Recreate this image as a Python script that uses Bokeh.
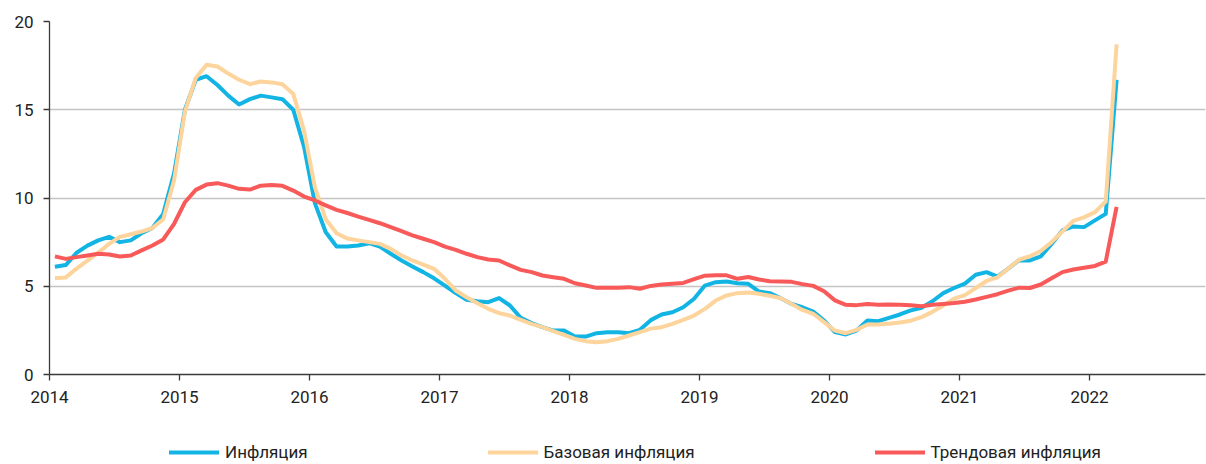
from bokeh.plotting import figure
from bokeh.layouts import column
from bokeh.models import Range1d, FixedTicker, Legend, LegendItem, ColumnDataSource
from bokeh.embed import file_html
from bokeh.resources import INLINE

start_year = 2014
years = [2014, 2015, 2016, 2017, 2018, 2019, 2020, 2021, 2022]

inflation = [
    6.1, 6.2, 6.9, 7.3, 7.6, 7.8, 7.5, 7.6, 8.0, 8.3, 9.1, 11.4,
    15.0, 16.7, 16.9, 16.4, 15.8, 15.3, 15.6, 15.8, 15.7, 15.6, 15.0, 12.9,
    9.7, 8.06, 7.25, 7.25, 7.31, 7.44, 7.25, 6.84, 6.46, 6.12, 5.8, 5.45,
    5.04, 4.61, 4.23, 4.15, 4.1, 4.33, 3.91, 3.21, 2.91, 2.68, 2.49, 2.49,
    2.15, 2.15, 2.34, 2.4, 2.4, 2.34, 2.53, 3.08, 3.4, 3.53, 3.81, 4.29,
    5.04, 5.23, 5.27, 5.17, 5.14, 4.7, 4.61, 4.32, 4.0, 3.81, 3.57, 3.06,
    2.4, 2.27, 2.49, 3.06, 3.02, 3.21, 3.4, 3.63, 3.78, 4.15, 4.61, 4.9,
    5.15, 5.65, 5.8, 5.55, 6.0, 6.48, 6.46, 6.69, 7.4, 8.16, 8.39, 8.35,
    8.73, 9.1, 16.7,
]

core = [
    5.45, 5.5, 6.0, 6.45, 6.9, 7.4, 7.8, 7.95, 8.1, 8.3, 8.8, 11.0,
    14.9, 16.8, 17.55, 17.45, 17.05, 16.7, 16.45, 16.6, 16.55, 16.45, 15.9, 13.8,
    10.6, 8.8, 8.0, 7.7, 7.6, 7.5, 7.4, 7.12, 6.74, 6.46, 6.23, 5.99,
    5.42, 4.76, 4.38, 4.04, 3.72, 3.48, 3.34, 3.1, 2.87, 2.68, 2.46, 2.25,
    2.02, 1.89, 1.83, 1.89, 2.02, 2.21, 2.4, 2.6, 2.68, 2.87, 3.1, 3.34,
    3.72, 4.19, 4.48, 4.61, 4.65, 4.57, 4.46, 4.32, 4.0, 3.66, 3.44, 2.97,
    2.49, 2.34, 2.53, 2.83, 2.83, 2.87, 2.95, 3.05, 3.25, 3.55, 3.9, 4.3,
    4.5, 4.9, 5.3, 5.5, 6.0, 6.5, 6.7, 7.0, 7.5, 8.1, 8.7, 8.9,
    9.2, 9.8, 18.7,
]

trend = [
    6.69, 6.55, 6.65, 6.74, 6.84, 6.8, 6.69, 6.74, 7.03, 7.31, 7.65, 8.54,
    9.76, 10.46, 10.76, 10.84, 10.7, 10.52, 10.48, 10.7, 10.73, 10.69, 10.42, 10.08,
    9.86, 9.58, 9.33, 9.15, 8.95, 8.76, 8.57, 8.35, 8.12, 7.88, 7.69, 7.5,
    7.25, 7.06, 6.84, 6.65, 6.52, 6.46, 6.18, 5.93, 5.8, 5.61, 5.51, 5.42,
    5.17, 5.04, 4.91, 4.91, 4.91, 4.95, 4.86, 5.02, 5.1, 5.14, 5.19, 5.4,
    5.6, 5.62, 5.62, 5.42, 5.52, 5.38, 5.28, 5.27, 5.25, 5.12, 5.02, 4.72,
    4.2, 3.95, 3.93, 4.0, 3.95, 3.97, 3.95, 3.92, 3.87, 3.95, 4.0, 4.05,
    4.12, 4.25, 4.4, 4.55, 4.75, 4.92, 4.9, 5.1, 5.45, 5.8, 5.95, 6.05,
    6.15, 6.4, 9.5,
]

labels = ["Инфляция", "Базовая инфляция", "Трендовая инфляция"]
colors = ["#12b4e4", "#fdd49c", "#f85a5a"]

x = [start_year + (i + 0.5) / 12 for i in range(len(inflation))]
src = ColumnDataSource(dict(x=x, inflation=inflation, core=core, trend=trend))

W = 1206
H_MAIN, H_LEG = 410, 54
left, right, top, bottom = 49, 1, 21, 36
px_per_year = 130

p = figure(
    width=W, height=H_MAIN, output_backend="svg", toolbar_location=None,
    x_range=Range1d(start_year, start_year + (W - left - right) / px_per_year),
    y_range=Range1d(0, 20),
    min_border_left=left, min_border_right=right,
    min_border_top=top, min_border_bottom=bottom,
)
p.outline_line_color = None

series = ["inflation", "core", "trend"]
for s, c in zip(series, colors):
    p.line("x", s, source=src, line_color=c, line_width=4, line_join="round")

axis_color = "#3a3a3a"
text_color = "#222222"
font = "Roboto"

p.xaxis.ticker = FixedTicker(ticks=years)
p.yaxis.ticker = FixedTicker(ticks=[0, 5, 10, 15, 20])
for ax in (p.xaxis, p.yaxis):
    ax.axis_line_color = axis_color
    ax.axis_line_width = 1.3
    ax.major_tick_line_color = axis_color
    ax.major_tick_line_width = 1.3
    ax.major_tick_out = 6
    ax.major_tick_in = 0
    ax.minor_tick_line_color = None
    ax.major_label_text_font = font
    ax.major_label_text_font_size = "17px"
    ax.major_label_text_color = text_color
p.xaxis.major_label_standoff = 10
p.yaxis.major_label_standoff = 10

p.xgrid.visible = False
p.ygrid.grid_line_color = "#c4c4c4"
p.ygrid.grid_line_width = 1.3

# legend strip below the chart
lg = figure(
    width=W, height=H_LEG, output_backend="svg", toolbar_location=None,
    x_range=Range1d(0, 1), y_range=Range1d(0, 1),
    x_axis_location=None, y_axis_location=None,
    min_border_left=0, min_border_right=0, min_border_top=0, min_border_bottom=0,
)
lg.outline_line_color = None
lg.grid.visible = False
offscreen = ColumnDataSource(dict(x=[-5, -4], y=[-5, -4]))
rs = [lg.line("x", "y", source=offscreen, line_color=c, line_width=4, line_cap="round")
      for c in colors]

legend = Legend(
    items=[LegendItem(label=l, renderers=[r]) for l, r in zip(labels, rs)],
    orientation="horizontal",
    location=(120, 2),
    spacing=180,
    glyph_width=50, glyph_height=18,
    label_standoff=6,
    padding=0, margin=0,
    border_line_color=None,
    background_fill_alpha=0,
    label_text_font=font,
    label_text_font_size="17px",
    label_text_color=text_color,
)
lg.add_layout(legend)

layout = column(p, lg, spacing=0)
open("out.html", "w").write(file_html(layout, INLINE))
